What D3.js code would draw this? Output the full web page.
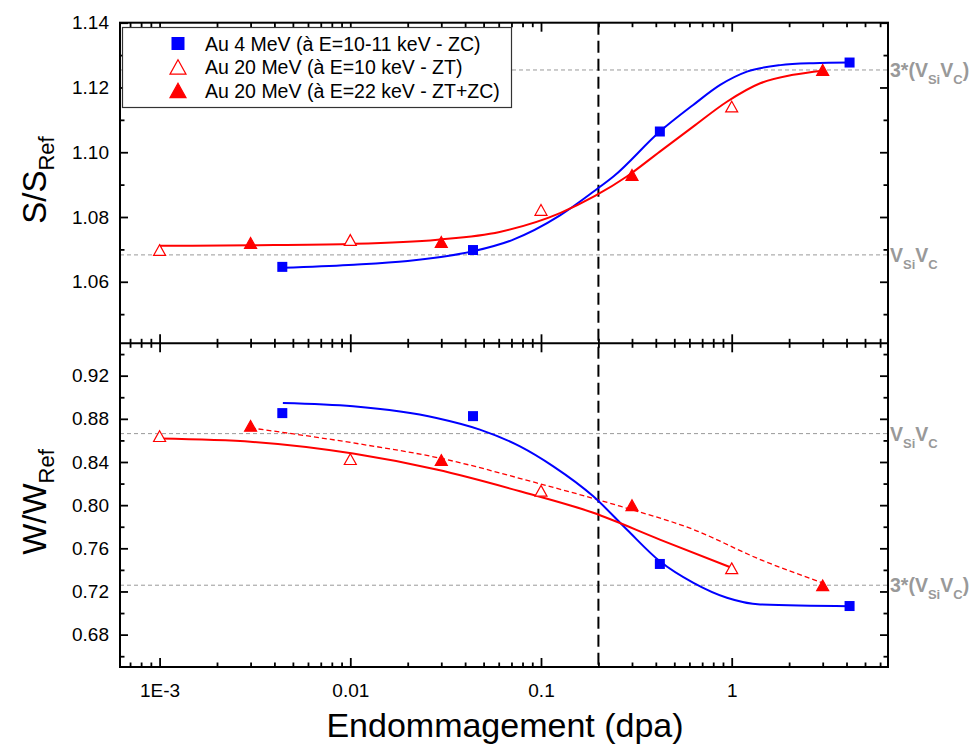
<!DOCTYPE html>
<html>
<head>
<meta charset="utf-8">
<script src="https://cdn.jsdelivr.net/npm/d3@7"></script>
<style>
  body { margin: 0; background: #fff; }
  svg { font-family: "Liberation Sans", Arial, Helvetica, sans-serif; }
</style>
</head>
<body>
<svg id="chart" width="973" height="744"></svg>
<script>
// ---- data ----
const xTickValues = [1e-3, 1e-2, 1e-1, 1];
const xTickLabels = ["1E-3", "0.01", "0.1", "1"];
const sTickValues = [1.06, 1.08, 1.10, 1.12, 1.14];
const wTickValues = [0.68, 0.72, 0.76, 0.80, 0.84, 0.88, 0.92];

const seriesNames = [
  "Au 4 MeV (à E=10-11 keV - ZC)",
  "Au 20 MeV (à E=10 keV - ZT)",
  "Au 20 MeV (à E=22 keV - ZT+ZC)"
];

// Au 4 MeV (squares)
const au4Dpa = [0.0044, 0.044, 0.42, 4.15];
const au4S = [1.0646, 1.0698, 1.1064, 1.1277];
const au4W = [0.8853, 0.8825, 0.7455, 0.7065];
// Au 20 MeV, E=10 keV (open triangles)
const au20ztDpa = [0.001, 0.01, 0.1, 1];
const au20ztS = [1.0698, 1.0729, 1.0822, 1.1141];
const au20ztW = [0.8640, 0.8427, 0.8133, 0.7415];
// Au 20 MeV, E=22 keV (filled triangles)
const au20Dpa = [0.003, 0.03, 0.3, 3];
const au20S = [1.0720, 1.0723, 1.0930, 1.1254];
const au20W = [0.8735, 0.8418, 0.8000, 0.7257];

// fitted curves [dpa, value]
const fitBlueS = [[0.00443, 1.0643], [0.0098, 1.0652], [0.02, 1.0664], [0.044, 1.0694], [0.07, 1.0728],
  [0.1258, 1.0805], [0.192, 1.0882], [0.2397, 1.0925], [0.42, 1.1064], [0.628, 1.1146], [0.87, 1.1208],
  [1.202, 1.1249], [1.797, 1.1269], [2.679, 1.1275], [4.15, 1.1277]];
const fitRedS = [[0.001, 1.0711], [0.00307, 1.0713], [0.0098, 1.0717], [0.0287, 1.0730], [0.0607, 1.0754],
  [0.1258, 1.0812], [0.192, 1.0865], [0.2818, 1.0925], [0.42, 1.1002], [0.628, 1.1079], [0.9436, 1.1156],
  [1.411, 1.1213], [2.103, 1.1239], [3.0, 1.1252]];
const fitBlueW = [[0.00443, 0.8947], [0.01034, 0.8916], [0.0283, 0.8808], [0.0478, 0.8700], [0.0776, 0.8545],
  [0.116, 0.8360], [0.188, 0.8082], [0.2818, 0.7774], [0.42, 0.7480], [0.63, 0.7280], [0.9436, 0.7142],
  [1.411, 0.7080], [4.15, 0.7064]];
const fitRedW = [[0.001, 0.8617], [0.00309, 0.8586], [0.01034, 0.8478], [0.0283, 0.8330], [0.0776, 0.8129],
  [0.188, 0.7929], [0.42, 0.7681], [1.0, 0.7420]];
const fitRedDashW = [[0.003, 0.8716], [0.01034, 0.8577], [0.0291, 0.8438], [0.0949, 0.8206], [0.26, 0.7990],
  [0.63, 0.7774], [1.411, 0.7496], [3.0, 0.7280]];

// reference levels: V_Si V_C and 3*(V_Si V_C)
const refS = [1.0683, 1.1254];
const refW = [0.8663, 0.7258];
const refLabelsS = ["single", "triple"];
const refLabelsW = ["single", "triple"];
const damageLimit = 0.2;

// ---- layout ----
const svg = d3.select("#chart");
const plotLeft = 120, plotRight = 888, plotTop = 22.7, plotMid = 343.3, plotBottom = 667;
const blue = "#0000ff", red = "#ff0000", gray = "#999999";

const x = d3.scaleLog().domain([6.2e-4, 6.6]).range([plotLeft, plotRight]);
const yS = d3.scaleLinear().domain([1.041, 1.14]).range([plotMid, plotTop]);
const yW = d3.scaleLinear().domain([0.65, 0.95]).range([plotBottom, plotMid]);

const xMinor = x.ticks().filter(d => !xTickValues.some(v => Math.abs(v - d) / v < 1e-6));

// reference dashed lines
function refLines(vals, y) {
  svg.append("g").selectAll("line").data(vals).enter().append("line")
    .attr("x1", plotLeft).attr("x2", plotRight)
    .attr("y1", d => y(d)).attr("y2", d => y(d))
    .attr("stroke", gray).attr("stroke-width", 1).attr("stroke-dasharray", "4,3");
}
refLines(refS, yS);
refLines(refW, yW);

// vertical dashed line at 0.2 dpa
svg.append("line")
  .attr("x1", x(damageLimit)).attr("x2", x(damageLimit))
  .attr("y1", plotTop).attr("y2", plotBottom)
  .attr("stroke", "#000").attr("stroke-width", 2).attr("stroke-dasharray", "12,6");

// curves
function curve(data, y, color, dash, w) {
  const line = d3.line().x(d => x(d[0])).y(d => y(d[1])).curve(d3.curveMonotoneX);
  svg.append("path").datum(data).attr("d", line)
    .attr("fill", "none").attr("stroke", color).attr("stroke-width", w)
    .attr("stroke-dasharray", dash);
}
curve(fitBlueS, yS, blue, null, 2);
curve(fitRedS, yS, red, null, 2);
curve(fitRedDashW, yW, red, "5,3", 1.3);
curve(fitBlueW, yW, blue, null, 2);
curve(fitRedW, yW, red, null, 2);

// markers
function triPath(cx, cy, w) {
  const h = w * 0.9;
  return `M${cx},${cy - h / 2}L${cx + w / 2},${cy + h / 2}L${cx - w / 2},${cy + h / 2}Z`;
}
function squares(xs, ys, y, size) {
  svg.append("g").selectAll("rect").data(xs).enter().append("rect")
    .attr("x", (d) => x(d) - size / 2).attr("y", (d, i) => y(ys[i]) - size / 2)
    .attr("width", size).attr("height", size).attr("fill", blue);
}
function triangles(xs, ys, y, size, filled) {
  svg.append("g").selectAll("path").data(xs).enter().append("path")
    .attr("d", (d, i) => triPath(x(d), y(ys[i]), size))
    .attr("fill", filled ? red : "#fff").attr("stroke", red).attr("stroke-width", 1.2);
}
squares(au4Dpa, au4S, yS, 10);
triangles(au20ztDpa, au20ztS, yS, 12, false);
triangles(au20Dpa, au20S, yS, 12, true);
squares(au4Dpa, au4W, yW, 10);
triangles(au20ztDpa, au20ztW, yW, 12, false);
triangles(au20Dpa, au20W, yW, 12, true);

// axes (ticks pointing inward)
function styleAxis(g) {
  g.select(".domain").remove();
  g.selectAll(".tick line").attr("stroke", "#000").attr("stroke-width", 1.8);
  g.selectAll("text").attr("font-size", 19).attr("fill", "#000")
    .attr("font-family", "'Liberation Sans', Arial, sans-serif");
}
function yAxes(y, majors, minorCount) {
  const minors = y.ticks(minorCount).filter(d => !majors.some(v => Math.abs(v - d) < 1e-6));
  svg.append("g").attr("transform", `translate(${plotLeft},0)`)
    .call(d3.axisLeft(y).tickValues(majors).tickSize(-8).tickPadding(11).tickFormat(d3.format(".2f")))
    .call(styleAxis);
  svg.append("g").attr("transform", `translate(${plotLeft},0)`)
    .call(d3.axisLeft(y).tickValues(minors).tickSize(-4.5).tickFormat(""))
    .call(styleAxis);
  svg.append("g").attr("transform", `translate(${plotRight},0)`)
    .call(d3.axisRight(y).tickValues(majors).tickSize(-8).tickFormat(""))
    .call(styleAxis);
  svg.append("g").attr("transform", `translate(${plotRight},0)`)
    .call(d3.axisRight(y).tickValues(minors).tickSize(-4.5).tickFormat(""))
    .call(styleAxis);
}
yAxes(yS, sTickValues, 10);
yAxes(yW, wTickValues, 15);

function xAxis(yPos, maker, size, labels) {
  svg.append("g").attr("transform", `translate(0,${yPos})`)
    .call(maker(x).tickValues(xTickValues).tickSize(-size).tickPadding(labels ? 17 : 0)
      .tickFormat((d, i) => labels ? xTickLabels[i] : ""))
    .call(styleAxis);
  svg.append("g").attr("transform", `translate(0,${yPos})`)
    .call(maker(x).tickValues(xMinor).tickSize(-size / 2).tickFormat(""))
    .call(styleAxis);
}
xAxis(plotTop, d3.axisTop, 9, false);
xAxis(plotMid, d3.axisBottom, 9, false);
xAxis(plotMid, d3.axisTop, 9, false);
xAxis(plotBottom, d3.axisBottom, 9, true);

// frames
svg.append("rect").attr("x", plotLeft).attr("y", plotTop)
  .attr("width", plotRight - plotLeft).attr("height", plotBottom - plotTop)
  .attr("fill", "none").attr("stroke", "#000").attr("stroke-width", 2);
svg.append("line").attr("x1", plotLeft).attr("x2", plotRight).attr("y1", plotMid).attr("y2", plotMid)
  .attr("stroke", "#000").attr("stroke-width", 2);

// reference level labels (right side)
function refLabel(yPos, kind) {
  const t = svg.append("text").attr("x", plotRight + 2).attr("y", yPos + 7)
    .attr("font-size", 19.5).attr("font-weight", "bold").attr("fill", gray);
  if (kind === "triple") t.append("tspan").text("3*(");
  t.append("tspan").text("V");
  t.append("tspan").attr("font-size", 13).attr("dy", 7).text("Si");
  t.append("tspan").attr("dy", -7).text("V");
  t.append("tspan").attr("font-size", 13).attr("dy", 7).text("C");
  if (kind === "triple") t.append("tspan").attr("dy", -7).text(")");
}
refS.forEach((v, i) => refLabel(yS(v), refLabelsS[i]));
refW.forEach((v, i) => refLabel(yW(v), refLabelsW[i]));

// legend
const lg = svg.append("g");
lg.append("rect").attr("x", 122.5).attr("y", 27.5).attr("width", 389).attr("height", 80)
  .attr("fill", "#fff").attr("stroke", "#333").attr("stroke-width", 1.2);
const rowY = [43.5, 67, 90.5];
lg.append("rect").attr("x", 178 - 6.5).attr("y", rowY[0] - 6.5).attr("width", 13).attr("height", 13).attr("fill", blue);
lg.append("path").attr("d", triPath(178, rowY[1], 16)).attr("fill", "#fff").attr("stroke", red).attr("stroke-width", 1.2);
lg.append("path").attr("d", triPath(178, rowY[2], 16)).attr("fill", red).attr("stroke", red).attr("stroke-width", 1.2);
lg.selectAll("text.lab").data(seriesNames).enter().append("text")
  .attr("class", "lab").attr("x", 205).attr("y", (d, i) => rowY[i] + 7)
  .attr("font-size", 19.5).attr("fill", "#000").text(d => d);

// axis titles
function yTitle(cy, main) {
  const t = svg.append("text").attr("transform", `translate(46,${cy}) rotate(-90)`)
    .attr("text-anchor", "middle").attr("font-size", 33).attr("fill", "#000");
  t.append("tspan").text(main);
  t.append("tspan").attr("font-size", 22).attr("dy", 8).text("Ref");
}
yTitle(180, "S/S");
yTitle(502, "W/W");

svg.append("text").attr("x", 505).attr("y", 737).attr("text-anchor", "middle")
  .attr("font-size", 34).attr("fill", "#000").text("Endommagement (dpa)");
</script>
</body>
</html>
